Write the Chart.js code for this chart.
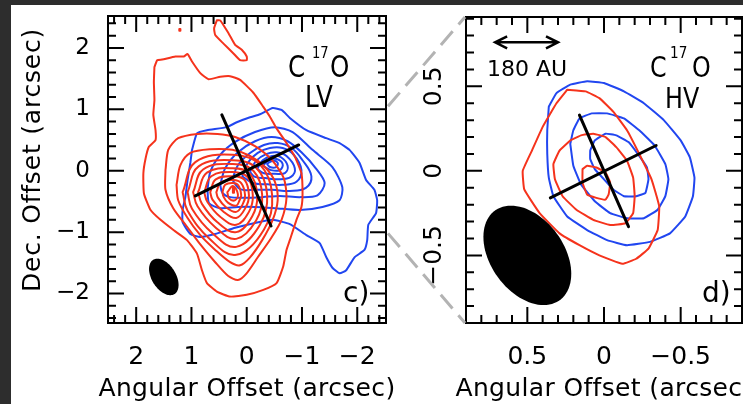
<!DOCTYPE html>
<html>
<head>
<meta charset="utf-8">
<title>C17O LV / HV</title>
<script src="https://cdn.jsdelivr.net/npm/chart.js@4/dist/chart.umd.min.js"></script>
<style>
  html, body { margin: 0; padding: 0; width: 743px; height: 404px; overflow: hidden; background: #2d2d2d; }
  #sheet { position: absolute; left: 11px; top: 5px; right: 0; bottom: 0; background: #fff; }
  canvas { position: absolute; top: 0; }
  #lv { left: 0; }
  #hv { left: 380px; }
  #links { left: 0; pointer-events: none; }
</style>
</head>
<body>
<div id="sheet"></div>
<canvas id="lv" width="410" height="404"></canvas>
<canvas id="hv" width="363" height="404"></canvas>
<canvas id="links" width="743" height="404"></canvas>
<script>
// Offsets in arcsec: x = angular offset (east positive, plotted to the left), y = Dec. offset.

const lvTicks = [-2, -1, 0, 1, 2];
const hvTicks = [-0.5, 0, 0.5];

// ---------- LV panel: red-shifted contours (outer to inner) ----------
const redLV1 = [[1.67,1.69],[1.62,1.80],[1.53,1.81],[1.29,1.86],[1.14,1.86],[1.07,1.90],[0.99,1.78],[0.84,1.59],[0.69,1.49],[0.48,1.53],[0.30,1.54],[0.12,1.48],[-0.12,1.27],[-0.30,1.04],[-0.42,0.88],[-0.54,0.69],[-0.72,0.45],[-0.87,0.23],[-0.99,-0.04],[-1.01,-0.37],[-0.99,-0.59],[-0.90,-0.80],[-0.78,-1.13],[-0.72,-1.29],[-0.66,-1.56],[-0.54,-1.83],[-0.30,-1.94],[0.00,-2.02],[0.30,-2.05],[0.54,-1.97],[0.72,-1.83],[0.81,-1.62],[0.90,-1.35],[1.08,-1.13],[1.32,-0.97],[1.56,-0.80],[1.74,-0.64],[1.86,-0.37],[1.87,-0.04],[1.83,0.20],[1.77,0.39],[1.65,0.50],[1.65,0.66],[1.69,0.91],[1.67,1.15],[1.68,1.44],[1.67,1.69]];
const redLVisland = [[0.54,2.45],[0.48,2.45],[0.33,2.24],[0.21,2.05],[0.09,1.97],[0.00,1.86],[0.00,1.80],[0.12,1.80],[0.24,1.91],[0.42,2.07],[0.57,2.21],[0.59,2.32],[0.54,2.45]];
const redLVspeck = [[1.22,2.31],[1.20,2.31],[1.20,2.28],[1.22,2.28],[1.22,2.31]];
const redLV2 = [[1.47,0.01],[1.42,0.34],[1.24,0.53],[0.89,0.60],[0.53,0.60],[0.21,0.55],[-0.15,0.40],[-0.46,0.17],[-0.67,-0.12],[-0.72,-0.44],[-0.63,-0.80],[-0.44,-1.10],[-0.20,-1.41],[0.01,-1.68],[0.16,-1.78],[0.34,-1.71],[0.57,-1.49],[0.84,-1.20],[1.09,-0.90],[1.33,-0.61],[1.47,-0.31],[1.47,0.01]];
const redLV3 = [[1.27,-0.23],[1.20,0.09],[1.02,0.29],[0.66,0.35],[0.26,0.34],[-0.06,0.24],[-0.33,0.06],[-0.51,-0.18],[-0.56,-0.48],[-0.47,-0.80],[-0.28,-1.13],[-0.06,-1.41],[0.12,-1.54],[0.30,-1.49],[0.57,-1.29],[0.84,-1.05],[1.07,-0.77],[1.24,-0.48],[1.27,-0.23]];
const redLV4 = [[1.16,-0.35],[0.93,0.14],[0.25,0.26],[-0.24,0.10],[-0.46,-0.40],[-0.31,-0.96],[0.19,-1.37],[0.66,-1.12],[1.07,-0.65],[1.16,-0.35]];
const redLV5 = [[1.07,-0.35],[0.87,0.07],[0.25,0.17],[-0.18,0.04],[-0.37,-0.40],[-0.24,-0.88],[0.19,-1.24],[0.62,-1.02],[0.99,-0.62],[1.07,-0.35]];
const redLV6 = [[0.97,-0.35],[0.79,0.02],[0.25,0.11],[-0.12,0.00],[-0.28,-0.40],[-0.17,-0.81],[0.19,-1.11],[0.57,-0.92],[0.89,-0.58],[0.97,-0.35]];
const redLV7 = [[0.88,-0.35],[0.72,-0.03],[0.25,0.04],[-0.06,-0.05],[-0.19,-0.40],[-0.10,-0.74],[0.19,-1.00],[0.53,-0.84],[0.81,-0.54],[0.88,-0.35]];
const redLV8 = [[0.77,-0.35],[0.64,-0.09],[0.25,-0.02],[-0.01,-0.10],[-0.11,-0.40],[-0.04,-0.67],[0.19,-0.88],[0.48,-0.75],[0.71,-0.51],[0.77,-0.35]];
const redLV9 = [[0.66,-0.35],[0.56,-0.14],[0.25,-0.09],[0.04,-0.15],[-0.04,-0.40],[0.02,-0.60],[0.19,-0.77],[0.43,-0.66],[0.62,-0.47],[0.66,-0.35]];
const redLV10 = [[0.55,-0.35],[0.47,-0.19],[0.25,-0.15],[0.10,-0.20],[0.03,-0.40],[0.07,-0.54],[0.19,-0.67],[0.38,-0.59],[0.52,-0.44],[0.55,-0.35]];
const redLV11 = [[0.44,-0.35],[0.39,-0.23],[0.25,-0.20],[0.15,-0.24],[0.10,-0.40],[0.13,-0.48],[0.19,-0.57],[0.34,-0.52],[0.42,-0.42],[0.44,-0.35]];
const redLV12 = [[0.35,-0.35],[0.25,-0.25],[0.16,-0.38],[0.21,-0.48],[0.32,-0.45],[0.35,-0.35]];
const redLVpeak = [[0.25,-0.27],[0.23,-0.27],[0.23,-0.36],[0.25,-0.36],[0.25,-0.27]];

// ---------- LV panel: blue-shifted contours ----------
const blueLV1 = [[0.99,0.34],[0.90,0.61],[0.72,0.66],[0.36,0.71],[0.18,0.79],[-0.06,0.87],[-0.24,0.92],[-0.47,1.02],[-0.63,0.99],[-0.78,0.86],[-1.08,0.66],[-1.44,0.53],[-1.68,0.45],[-1.86,0.34],[-2.04,0.13],[-2.16,-0.15],[-2.31,-0.31],[-2.36,-0.48],[-2.34,-0.69],[-2.20,-0.88],[-2.18,-1.13],[-2.13,-1.29],[-1.95,-1.41],[-1.80,-1.62],[-1.68,-1.67],[-1.55,-1.58],[-1.44,-1.41],[-1.32,-1.18],[-1.08,-1.05],[-0.78,-0.87],[-0.47,-0.80],[-0.15,-0.85],[0.21,-0.93],[0.57,-1.03],[0.84,-1.08],[1.02,-1.03],[1.16,-0.84],[1.16,-0.64],[1.11,-0.43],[1.07,-0.15],[1.02,0.13],[0.99,0.34]];
const blueLV2 = [[0.71,-0.31],[0.66,-0.02],[0.48,0.26],[0.21,0.47],[-0.15,0.63],[-0.51,0.71],[-0.83,0.63],[-1.19,0.34],[-1.55,0.06],[-1.73,-0.27],[-1.68,-0.48],[-1.37,-0.59],[-0.96,-0.64],[-0.51,-0.61],[-0.15,-0.59],[0.16,-0.59],[0.48,-0.61],[0.68,-0.53],[0.71,-0.31]];
const blueLV3 = [[0.48,-0.23],[0.39,0.04],[0.16,0.30],[-0.15,0.48],[-0.45,0.55],[-0.74,0.48],[-0.99,0.30],[-1.25,0.04],[-1.41,-0.20],[-1.28,-0.40],[-0.96,-0.43],[-0.60,-0.41],[-0.28,-0.43],[0.03,-0.44],[0.30,-0.43],[0.44,-0.36],[0.48,-0.23]];
const blueLV4 = [[0.26,-0.15],[0.16,0.09],[-0.06,0.29],[-0.31,0.42],[-0.56,0.45],[-0.81,0.37],[-1.01,0.17],[-1.17,-0.09],[-1.07,-0.28],[-0.78,-0.33],[-0.46,-0.31],[-0.15,-0.31],[0.12,-0.30],[0.26,-0.15]];
const blueLV5 = [[0.08,-0.09],[-0.02,0.13],[-0.20,0.29],[-0.42,0.37],[-0.65,0.37],[-0.85,0.26],[-0.99,0.01],[-0.90,-0.18],[-0.65,-0.23],[-0.38,-0.22],[-0.11,-0.20],[0.08,-0.09]];
const blueLV6 = [[-0.06,-0.02],[-0.17,0.16],[-0.35,0.27],[-0.54,0.30],[-0.72,0.24],[-0.87,0.04],[-0.80,-0.10],[-0.58,-0.14],[-0.33,-0.12],[-0.15,-0.10],[-0.06,-0.02]];
const blueLV7 = [[-0.19,0.03],[-0.29,0.17],[-0.46,0.24],[-0.62,0.22],[-0.74,0.08],[-0.69,-0.04],[-0.51,-0.05],[-0.31,-0.04],[-0.19,0.03]];
const blueLV8 = [[-0.29,0.08],[-0.40,0.17],[-0.54,0.19],[-0.65,0.11],[-0.60,0.01],[-0.44,0.01],[-0.29,0.08]];
const blueLV9 = [[-0.37,0.11],[-0.46,0.16],[-0.56,0.13],[-0.53,0.06],[-0.42,0.06],[-0.37,0.11]];

// ---------- HV panel ----------
const redHV1 = [[0.24,0.48],[0.12,0.47],[0.03,0.43],[-0.06,0.35],[-0.15,0.24],[-0.23,0.10],[-0.31,-0.05],[-0.36,-0.21],[-0.35,-0.35],[-0.29,-0.46],[-0.21,-0.52],[-0.12,-0.55],[0.03,-0.50],[0.16,-0.44],[0.29,-0.37],[0.42,-0.25],[0.52,-0.11],[0.53,0.00],[0.47,0.12],[0.40,0.26],[0.31,0.40],[0.24,0.48]];
const redHV2 = [[0.22,0.18],[0.15,0.21],[0.07,0.22],[-0.01,0.20],[-0.08,0.14],[-0.15,0.06],[-0.19,-0.04],[-0.20,-0.15],[-0.19,-0.25],[-0.14,-0.31],[-0.04,-0.32],[0.07,-0.29],[0.18,-0.23],[0.27,-0.15],[0.32,-0.05],[0.33,0.04],[0.29,0.12],[0.22,0.18]];
const redHV3 = [[0.14,0.01],[0.11,0.03],[0.05,0.02],[-0.01,-0.01],[-0.04,-0.07],[-0.03,-0.14],[-0.01,-0.17],[0.05,-0.16],[0.11,-0.14],[0.14,-0.07],[0.14,0.01]];
const blueHV1 = [[0.36,0.38],[0.31,0.46],[0.22,0.51],[0.11,0.53],[0.00,0.52],[-0.13,0.47],[-0.26,0.40],[-0.39,0.30],[-0.50,0.18],[-0.56,0.08],[-0.59,-0.04],[-0.58,-0.15],[-0.53,-0.27],[-0.43,-0.37],[-0.30,-0.42],[-0.15,-0.44],[-0.02,-0.41],[0.11,-0.35],[0.24,-0.27],[0.33,-0.15],[0.36,-0.04],[0.37,0.10],[0.37,0.24],[0.36,0.38]];
const blueHV2 = [[0.22,0.16],[0.20,0.24],[0.16,0.31],[0.08,0.34],[-0.02,0.34],[-0.13,0.31],[-0.23,0.24],[-0.33,0.15],[-0.40,0.04],[-0.42,-0.05],[-0.40,-0.15],[-0.35,-0.23],[-0.26,-0.28],[-0.15,-0.28],[-0.04,-0.25],[0.06,-0.18],[0.15,-0.08],[0.20,0.03],[0.22,0.16]];
const blueHV3 = [[0.09,0.12],[0.06,0.18],[-0.01,0.22],[-0.08,0.21],[-0.16,0.17],[-0.22,0.10],[-0.28,0.02],[-0.29,-0.05],[-0.27,-0.13],[-0.21,-0.15],[-0.13,-0.15],[-0.06,-0.11],[0.00,-0.05],[0.06,0.01],[0.09,0.07],[0.09,0.12]];

// Disk / outflow axes through the source position
const axisLV = [[[0.45,0.91],[-0.44,-0.90]], [[0.93,-0.41],[-0.94,0.42]]];
const axisHV = [[[0.16,0.33],[-0.16,-0.33]], [[0.35,-0.16],[-0.34,0.15]]];

// Synthesized beams: centre x, centre y, semi-major, semi-minor (arcsec), PA (deg, E of N)
const beamLV = [1.50, -1.73, 0.34, 0.21, 38];
const beamHV = [0.50, -0.50, 0.34, 0.23, 43];

// 180 AU scale bar: x from, x to, y
const scaleBar = [0.71, 0.30, 0.76];
// Dec. offsets on the LV frame joined to the HV frame corners
const zoomBand = [1.05, -1.02];

// ---------- drawing ----------
const RED = '#f5331c', BLUE = '#2146f0', FONT = 'DejaVu Sans';
Chart.defaults.font.family = FONT;
Chart.defaults.color = '#000';

const fmt = v => (v < 0 ? '\u2212' + Math.abs(v) : String(v));

function trace(pts, color, width, tension, order) {
  return {
    data: pts.map(([x, y]) => ({ x, y })),
    showLine: true, fill: false, borderColor: color, borderWidth: width, tension,
    pointRadius: 0, pointHoverRadius: 0, borderJoinStyle: 'round', borderCapStyle: 'round', order
  };
}

// Box with inward major/minor ticks on all four sides
function frame(step, majors) {
  return {
    id: 'frame',
    afterDraw(chart) {
      const { ctx, chartArea: a } = chart;
      const sx = chart.scales.x, sy = chart.scales.y;
      const marks = (scale, cb) => {
        const n0 = Math.ceil(scale.min / step - 1e-6), n1 = Math.floor(scale.max / step + 1e-6);
        for (let n = n0; n <= n1; n++) {
          const v = n * step;
          const major = majors.some(m => Math.abs(m - v) < 1e-6);
          cb(scale.getPixelForValue(v), major ? 16 : 8);
        }
      };
      ctx.save();
      ctx.strokeStyle = '#000';
      ctx.lineWidth = 2;
      ctx.beginPath();
      marks(sx, (p, len) => {
        ctx.moveTo(p, a.bottom); ctx.lineTo(p, a.bottom - len);
        ctx.moveTo(p, a.top); ctx.lineTo(p, a.top + len);
      });
      marks(sy, (p, len) => {
        ctx.moveTo(a.left, p); ctx.lineTo(a.left + len, p);
        ctx.moveTo(a.right, p); ctx.lineTo(a.right - len, p);
      });
      ctx.stroke();
      ctx.strokeRect(a.left, a.top, a.right - a.left, a.bottom - a.top);
      ctx.restore();
    }
  };
}

function drawBeam(chart, b) {
  const [cx, cy, ma, mi, pa] = b;
  const { ctx } = chart, sx = chart.scales.x, sy = chart.scales.y;
  const t = pa * Math.PI / 180, s = Math.sin(t), c = Math.cos(t);
  ctx.save();
  ctx.fillStyle = '#000';
  ctx.beginPath();
  for (let k = 0; k <= 90; k++) {
    const th = k / 90 * 2 * Math.PI;
    const u = ma * Math.cos(th), w = mi * Math.sin(th);
    const px = sx.getPixelForValue(cx + u * s + w * c);
    const py = sy.getPixelForValue(cy + u * c - w * s);
    if (k) ctx.lineTo(px, py); else ctx.moveTo(px, py);
  }
  ctx.closePath();
  ctx.fill();
  ctx.restore();
}

function word(ctx, text, x, y, size, squeeze) {
  ctx.save();
  ctx.translate(x, y);
  ctx.scale(squeeze, 1);
  ctx.font = size + 'px "' + FONT + '"';
  ctx.fillStyle = '#000';
  ctx.textAlign = 'left';
  ctx.textBaseline = 'alphabetic';
  ctx.fillText(text, 0, 0);
  ctx.restore();
}

// Axis title with the slightly open letter spacing of the figure lettering
function axisTitle(ctx, text, x, y, rotate, spacing) {
  ctx.save();
  ctx.translate(x, y);
  if (rotate) ctx.rotate(-Math.PI / 2);
  ctx.font = '25px "' + FONT + '"';
  ctx.letterSpacing = spacing + 'px';
  ctx.fillStyle = '#000';
  ctx.textAlign = 'center';
  ctx.textBaseline = 'middle';
  ctx.fillText(text, 0, 0);
  ctx.restore();
}

function axes(o) {
  return {
    x: {
      type: 'linear', min: o.xMin, max: o.xMax, reverse: true,
      afterBuildTicks: s => { s.ticks = o.xTicks.map(v => ({ value: v })); },
      afterFit: s => { s.height = o.xHeight; s.paddingLeft = 0; s.paddingRight = 0; },
      grid: { display: false, drawTicks: false },
      border: { display: false },
      ticks: { autoSkip: false, maxRotation: 0, minRotation: 0, padding: 19, font: { size: 25 }, color: '#000', callback: fmt },
      title: { display: false }
    },
    y: {
      type: 'linear', min: o.yMin, max: o.yMax,
      afterBuildTicks: s => { s.ticks = o.yTicks.map(v => ({ value: v })); },
      afterFit: s => { s.width = o.yWidth; s.paddingTop = 0; s.paddingBottom = 0; },
      grid: { display: false, drawTicks: false },
      border: { display: false },
      ticks: Object.assign({ autoSkip: false, color: '#000', callback: fmt }, o.yTickOpts)
    }
  };
}

const baseOptions = {
  responsive: false, animation: false, devicePixelRatio: 1, events: [],
  plugins: { legend: { display: false }, tooltip: { enabled: false } }
};

const lvChart = new Chart(document.getElementById('lv'), {
  type: 'scatter',
  data: {
    datasets: [
      ...axisLV.map(l => trace(l, '#000', 3, 0, 0)),
      trace(redLV1, RED, 2, 0.15, 1), trace(redLVisland, RED, 2, 0.15, 1), trace(redLVspeck, RED, 2, 0, 1),
      trace(redLV2, RED, 2, 0.25, 1), trace(redLV3, RED, 2, 0.3, 1),
      ...[redLV4, redLV5, redLV6, redLV7, redLV8, redLV9, redLV10, redLV11, redLV12].map(c => trace(c, RED, 2, 0.4, 1)),
      trace(redLVpeak, RED, 2, 0, 1),
      trace(blueLV1, BLUE, 2, 0.15, 2), trace(blueLV2, BLUE, 2, 0.25, 2), trace(blueLV3, BLUE, 2, 0.3, 2),
      ...[blueLV4, blueLV5, blueLV6, blueLV7, blueLV8, blueLV9].map(c => trace(c, BLUE, 2, 0.4, 2))
    ]
  },
  options: Object.assign({}, baseOptions, {
    layout: { padding: { left: 0, top: 16, right: 24, bottom: 0 } },
    scales: axes({ xMin: -2.52, xMax: 2.51, yMin: -2.48, yMax: 2.52, xTicks: lvTicks, yTicks: lvTicks,
      xHeight: 81, yWidth: 108, yTickOpts: { padding: 18, font: { size: 23 } } })
  }),
  plugins: [frame(0.2, lvTicks), {
    id: 'lvNotes',
    afterDatasetsDraw(chart) {
      const { ctx, chartArea: a } = chart;
      drawBeam(chart, beamLV);
      word(ctx, 'C', a.right - 98, a.top + 61, 30, 0.82);
      word(ctx, '17', a.right - 74, a.top + 42, 16, 0.82);
      word(ctx, 'O', a.right - 56, a.top + 61, 30, 0.82);
      word(ctx, 'LV', a.right - 81, a.top + 91, 30, 0.82);
      word(ctx, 'c)', a.right - 43, a.top + 286, 28, 1);
    },
    afterDraw(chart) {
      const { ctx, chartArea: a } = chart;
      axisTitle(ctx, 'Dec. Offset (arcsec)', a.left - 74.5, (a.top + a.bottom) / 2 - 9.5, true, 0.8);
      axisTitle(ctx, 'Angular Offset (arcsec)', (a.left + a.right) / 2, a.bottom + 66, false, 0.35);
    }
  }]
});

const hvChart = new Chart(document.getElementById('hv'), {
  type: 'scatter',
  data: {
    datasets: [
      ...axisHV.map(l => trace(l, '#000', 3, 0, 0)),
      ...[redHV1, redHV2, redHV3].map(c => trace(c, RED, 2, 0.1, 1)),
      ...[blueHV1, blueHV2, blueHV3].map(c => trace(c, BLUE, 2, 0.1, 2))
    ]
  },
  options: Object.assign({}, baseOptions, {
    layout: { padding: { left: 0, top: 17, right: 1, bottom: 0 } },
    scales: axes({ xMin: -0.9, xMax: 0.9, yMin: -0.9, yMax: 0.91, xTicks: hvTicks, yTicks: hvTicks,
      xHeight: 81, yWidth: 86,
      yTickOpts: { minRotation: 90, maxRotation: 90, crossAlign: 'center', padding: 1, font: { size: 25 } } })
  }),
  plugins: [frame(0.1, hvTicks), {
    id: 'hvNotes',
    afterDatasetsDraw(chart) {
      const { ctx, chartArea: a } = chart, sx = chart.scales.x, sy = chart.scales.y;
      drawBeam(chart, beamHV);
      const [b0, b1, by] = scaleBar;
      const x1 = sx.getPixelForValue(b0), x2 = sx.getPixelForValue(b1), y = sy.getPixelForValue(by);
      ctx.save();
      ctx.strokeStyle = '#000';
      ctx.lineWidth = 2.5;
      ctx.beginPath();
      ctx.moveTo(x1, y); ctx.lineTo(x2, y);
      ctx.moveTo(x1 + 12, y - 6); ctx.lineTo(x1, y); ctx.lineTo(x1 + 12, y + 6);
      ctx.moveTo(x2 - 12, y - 6); ctx.lineTo(x2, y); ctx.lineTo(x2 - 12, y + 6);
      ctx.stroke();
      ctx.font = '22px "' + FONT + '"';
      ctx.fillStyle = '#000';
      ctx.textAlign = 'center';
      ctx.textBaseline = 'alphabetic';
      ctx.fillText('180 AU', sx.getPixelForValue(0.502), sy.getPixelForValue(0.56));
      ctx.restore();
      word(ctx, 'C', a.right - 92, a.top + 60, 28, 0.85);
      word(ctx, '17', a.right - 72, a.top + 41, 16, 0.85);
      word(ctx, 'O', a.right - 50, a.top + 60, 28, 0.85);
      word(ctx, 'HV', a.right - 77, a.top + 91, 28, 0.85);
      word(ctx, 'd)', a.right - 40, a.top + 285, 28, 1);
    },
    afterDraw(chart) {
      const { ctx, chartArea: a } = chart;
      axisTitle(ctx, 'Angular Offset (arcsec)', (a.left + a.right) / 2, a.bottom + 66, false, 0.35);
    }
  }]
});

// Dashed guides from the LV frame to the HV frame corners
(function () {
  const lk = document.getElementById('links').getContext('2d');
  const la = lvChart.chartArea, ha = hvChart.chartArea, off = 380;
  const yHi = lvChart.scales.y.getPixelForValue(zoomBand[0]);
  const yLo = lvChart.scales.y.getPixelForValue(zoomBand[1]);
  lk.strokeStyle = '#b3b3b3';
  lk.lineWidth = 3;
  lk.setLineDash([18, 9]);
  lk.beginPath();
  lk.moveTo(la.right + 2, yHi); lk.lineTo(ha.left + off - 1, ha.top);
  lk.stroke();
  lk.beginPath();
  lk.moveTo(la.right + 2, yLo); lk.lineTo(ha.left + off - 1, ha.bottom);
  lk.stroke();
})();
</script>
</body>
</html>
